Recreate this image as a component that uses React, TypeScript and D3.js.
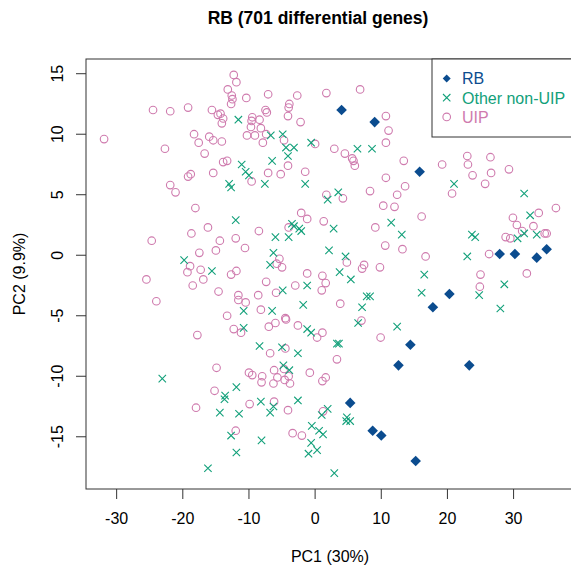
import React, { useEffect, useRef } from 'react';
import * as d3 from 'd3';

const title = 'RB (701 differential genes)';
const xLabel = 'PC1 (30%)';
const yLabel = 'PC2 (9.9%)';
const xTicks = [-30, -20, -10, 0, 10, 20, 30];
const yTicks = [-15, -10, -5, 0, 5, 10, 15];
const groups = ['RB', 'Other non-UIP', 'UIP'];
const colors = ['#0b4c8f', '#12a07a', '#cf7bae'];

const rbPoints = [
  [4.0, 12.0], [9.0, 11.0], [15.8, 6.9], [35.0, 0.5], [33.5, -0.2], [30.2, 0.1],
  [27.9, 0.1], [20.3, -3.2], [17.8, -4.3], [14.4, -7.4], [12.6, -9.1], [23.3, -9.1],
  [5.3, -12.2], [8.7, -14.5], [10.0, -14.9], [15.2, -17.0],
];

const otherPoints = [
  [-11.6, 11.2], [-11.1, 7.5], [-10.5, 6.9], [-13.0, 5.9], [-12.7, 5.6], [-6.7, 9.9],
  [-4.9, 10.0], [-0.6, 9.3], [-4.4, 8.9], [-3.2, 8.9], [-4.1, 8.2], [-6.5, 7.8],
  [6.4, 8.8], [8.6, 8.8], [-10.0, 6.6], [-7.6, 5.9], [-1.5, 5.9], [3.5, 5.2],
  [1.9, 4.6], [21.0, 5.9], [31.6, 5.1], [32.5, 3.3], [23.7, 1.7], [24.2, 1.5],
  [30.6, 1.4], [31.6, 1.8], [33.5, 1.7], [23.0, -0.1], [16.5, -1.6], [28.6, -2.4],
  [16.1, -3.1], [24.8, -3.3], [28.0, -4.4], [-12.0, 2.9], [-19.8, -0.4], [-15.6, -1.3],
  [-10.8, -4.6], [-10.8, -6.0], [-3.5, 2.6], [-3.2, 2.4], [-2.4, 2.2], [-2.1, 2.0],
  [2.8, 2.2], [-6.0, 1.5], [-4.0, 1.5], [11.5, 2.7], [13.1, 1.7], [2.1, 0.4],
  [-6.3, 0.2], [-6.8, -0.8], [4.6, -0.1], [3.7, -1.4], [5.4, -2.0], [-1.2, -2.5],
  [-4.9, -2.9], [7.8, -3.4], [8.3, -3.4], [-1.8, -4.1], [-6.5, -4.6], [7.1, -4.3],
  [6.5, -5.6], [12.4, -5.9], [-1.2, -6.1], [-0.6, -6.4], [-23.1, -10.2], [-11.9, -10.9],
  [-13.6, -11.6], [-13.7, -11.9], [-14.4, -13.0], [-11.5, -13.1], [-12.7, -14.9], [-11.9, -16.3],
  [-16.2, -17.6], [-8.4, -7.5], [-5.0, -7.6], [-2.6, -8.1], [3.3, -7.3], [3.6, -7.3],
  [-4.8, -9.1], [-3.9, -9.5], [-8.2, -12.1], [-6.3, -12.5], [-6.8, -13.0], [-2.6, -12.0],
  [1.9, -12.7], [1.0, -13.2], [4.8, -13.4], [5.3, -13.7], [4.7, -13.7], [-0.5, -14.1],
  [0.6, -14.5], [1.2, -14.8], [-0.6, -15.5], [-8.1, -15.3], [0.3, -16.1], [-1.0, -16.4],
  [2.9, -18.0],
];

const uipPoints = [
  [-12.3, 14.9], [-11.9, 14.3], [-13.2, 13.7], [-12.6, 13.2], [-12.5, 12.9], [-12.7, 12.5],
  [-10.4, 13.0], [-24.5, 12.0], [-21.9, 11.9], [-19.2, 12.2], [-15.6, 12.0], [-14.7, 11.6],
  [-14.3, 11.7], [-13.9, 11.3], [-14.1, 10.9], [-31.9, 9.6], [-18.3, 10.0], [-17.6, 9.3],
  [-16.0, 9.8], [-15.4, 9.5], [-14.1, 9.4], [-10.3, 9.9], [-22.7, 8.8], [-16.7, 8.4],
  [-13.9, 7.7], [-13.3, 7.8], [-18.8, 6.7], [-19.2, 6.5], [-15.4, 6.8], [-21.9, 5.8],
  [-21.1, 5.2], [-7.1, 13.3], [-2.7, 13.2], [1.7, 13.4], [6.8, 13.7], [-7.5, 12.0],
  [-7.3, 11.8], [-3.9, 12.5], [-4.0, 12.2], [-4.1, 11.5], [-2.2, 11.0], [-9.5, 11.4],
  [-9.6, 11.1], [-8.4, 11.2], [-9.7, 10.6], [-8.2, 10.5], [-9.1, 9.9], [-7.4, 10.0],
  [-7.9, 9.3], [-4.7, 9.5], [0.0, 9.2], [2.9, 8.8], [4.5, 8.4], [5.6, 8.0],
  [5.8, 7.8], [6.0, 7.4], [10.7, 11.5], [11.1, 10.3], [10.7, 9.3], [13.4, 7.8],
  [-4.1, 7.4], [-7.1, 6.8], [-5.2, 6.7], [-1.5, 6.9], [-9.6, 6.1], [10.7, 6.4],
  [13.6, 5.7], [8.3, 5.3], [12.4, 5.0], [1.7, 5.0], [4.2, 4.7], [19.2, 7.5],
  [23.0, 8.2], [23.1, 7.5], [26.5, 8.1], [23.8, 6.6], [26.6, 6.8], [29.3, 7.1],
  [25.7, 5.9], [20.7, 5.1], [29.9, 3.1], [30.5, 2.5], [33.8, 3.5], [36.4, 3.9],
  [33.0, 2.4], [31.3, 2.0], [28.8, 1.5], [29.5, 1.4], [34.7, 1.8], [35.0, 1.8],
  [16.1, 3.2], [16.7, -0.1], [26.3, 0.1], [25.0, -1.6], [24.9, -2.6], [32.0, -1.5],
  [-18.1, 3.9], [-16.2, 2.3], [-18.7, 1.8], [-24.7, 1.2], [-14.4, 1.2], [-12.0, 1.4],
  [-10.6, 0.6], [-15.0, 0.4], [-17.5, 0.2], [-18.9, -0.9], [-19.3, -1.4], [-17.3, -1.2],
  [-16.9, -2.0], [-12.7, -1.6], [-11.9, -1.3], [-25.5, -2.0], [-18.5, -2.5], [-14.6, -3.0],
  [-24.0, -3.8], [-11.6, -3.3], [-11.6, -3.7], [-10.5, -3.9], [-13.3, -5.0], [-12.3, -6.1],
  [-11.2, -6.4], [-17.8, -6.6], [10.3, 4.1], [12.0, 4.0], [-2.1, 3.5], [-1.2, 3.0],
  [1.3, 2.8], [-4.0, 2.3], [-8.5, 2.0], [9.1, 2.3], [10.6, 0.8], [13.2, 0.5],
  [-5.4, -0.3], [-5.8, -0.7], [-5.0, -1.0], [4.8, -0.6], [7.4, -0.8], [7.1, -1.1],
  [9.8, -1.0], [-1.2, -1.5], [-7.4, -2.2], [1.1, -1.7], [1.6, -2.3], [-3.0, -2.5],
  [1.0, -2.9], [-5.9, -3.1], [-8.6, -3.3], [-8.2, -4.5], [3.8, -4.0], [-6.0, -5.6],
  [-7.0, -5.9], [-4.5, -5.2], [-4.4, -5.3], [-2.6, -5.8], [1.1, -6.4], [0.3, -6.8],
  [7.0, -5.4], [9.9, -6.8], [-14.9, -9.3], [-15.2, -11.2], [-18.0, -12.6], [-12.0, -14.5],
  [-6.8, -8.1], [-4.5, -7.7], [3.3, -8.6], [-10.0, -9.7], [-9.5, -9.9], [-6.2, -9.5],
  [-4.7, -9.4], [-8.0, -10.0], [-8.1, -10.5], [-5.7, -10.1], [-6.3, -10.6], [-4.6, -10.3],
  [-4.0, -10.0], [-3.8, -10.6], [-0.8, -9.7], [1.6, -10.1], [1.1, -10.4], [-9.9, -12.3],
  [-6.2, -12.1], [-4.1, -12.8], [1.2, -12.9], [-3.4, -14.7], [-2.0, -14.9],
];

const W = 571;
const H = 569;
const left = 86, right = 574, top = 59, bottom = 489;
const font = 'Liberation Sans, Arial, Helvetica, sans-serif';

function App() {
  const ref = useRef<SVGSVGElement>(null);

  useEffect(() => {
    const svg = d3.select(ref.current);
    svg.selectAll('*').remove();

    const all = [...rbPoints, ...otherPoints, ...uipPoints];
    // R style 4% padding around the data range
    const pad = (ext: [number, number]) => {
      const r = ext[1] - ext[0];
      return [ext[0] - 0.04 * r, ext[1] + 0.04 * r];
    };
    const xScale = d3.scaleLinear()
      .domain(pad(d3.extent(all, d => d[0]) as [number, number]))
      .range([left, right]);
    const yScale = d3.scaleLinear()
      .domain(pad(d3.extent(all, d => d[1]) as [number, number]))
      .range([bottom, top]);

    svg.append('rect').attr('width', W).attr('height', H).attr('fill', 'white');

    svg.append('text')
      .attr('x', 318).attr('y', 24)
      .attr('text-anchor', 'middle')
      .style('font', `bold 17.5px ${font}`)
      .text(title);

    // x axis
    const xa = svg.append('g').attr('class', 'x axis');
    xa.selectAll('line').data(xTicks).enter().append('line')
      .attr('x1', d => xScale(d)).attr('x2', d => xScale(d))
      .attr('y1', bottom).attr('y2', bottom + 10)
      .attr('stroke', '#333');
    xa.selectAll('text').data(xTicks).enter().append('text')
      .attr('x', d => xScale(d)).attr('y', 524)
      .attr('text-anchor', 'middle')
      .style('font', `16px ${font}`)
      .text(d => d);
    svg.append('text')
      .attr('x', (left + right) / 2).attr('y', 562)
      .attr('text-anchor', 'middle')
      .style('font', `16px ${font}`)
      .text(xLabel);

    // y axis
    const ya = svg.append('g').attr('class', 'y axis');
    ya.selectAll('line').data(yTicks).enter().append('line')
      .attr('y1', d => yScale(d)).attr('y2', d => yScale(d))
      .attr('x1', left).attr('x2', left - 10)
      .attr('stroke', '#333');
    ya.selectAll('text').data(yTicks).enter().append('text')
      .attr('transform', d => `translate(63,${yScale(d)}) rotate(-90)`)
      .attr('text-anchor', 'middle')
      .style('font', `16px ${font}`)
      .text(d => d);
    svg.append('text')
      .attr('transform', `translate(25,${(top + bottom) / 2}) rotate(-90)`)
      .attr('text-anchor', 'middle')
      .style('font', `16px ${font}`)
      .text(yLabel);

    // points
    svg.append('g').attr('class', 'uip')
      .selectAll('circle').data(uipPoints).enter().append('circle')
      .attr('cx', d => xScale(d[0])).attr('cy', d => yScale(d[1]))
      .attr('r', 3.8)
      .attr('fill', 'none').attr('stroke', colors[2]).attr('stroke-width', 1.1);

    const cross = 'M-3.7,-3.7L3.7,3.7M-3.7,3.7L3.7,-3.7';
    svg.append('g').attr('class', 'other')
      .selectAll('path').data(otherPoints).enter().append('path')
      .attr('transform', d => `translate(${xScale(d[0])},${yScale(d[1])})`)
      .attr('d', cross)
      .attr('stroke', colors[1]).attr('stroke-width', 1.1).attr('fill', 'none');

    const diamond = 'M0,-5.3L5.3,0L0,5.3L-5.3,0Z';
    svg.append('g').attr('class', 'rb')
      .selectAll('path').data(rbPoints).enter().append('path')
      .attr('transform', d => `translate(${xScale(d[0])},${yScale(d[1])})`)
      .attr('d', diamond)
      .attr('fill', colors[0]);

    // plot box
    svg.append('rect')
      .attr('x', left).attr('y', top)
      .attr('width', right - left).attr('height', bottom - top)
      .attr('fill', 'none').attr('stroke', '#333');

    // legend
    const lg = svg.append('g').attr('class', 'legend');
    lg.append('rect')
      .attr('x', 432).attr('y', top)
      .attr('width', right - 432).attr('height', 78)
      .attr('fill', 'white').attr('stroke', '#333');
    const shapes = [diamond, cross, null];
    groups.forEach((g, i) => {
      const y = 78.5 + i * 19.2;
      if (i === 2) {
        lg.append('circle').attr('cx', 446.7).attr('cy', y).attr('r', 3.8)
          .attr('fill', 'none').attr('stroke', colors[2]).attr('stroke-width', 1.1);
      } else {
        lg.append('path')
          .attr('transform', `translate(446.7,${y})` + (i === 0 ? ' scale(0.75)' : ''))
          .attr('d', shapes[i] as string)
          .attr('fill', i === 0 ? colors[0] : 'none')
          .attr('stroke', i === 1 ? colors[1] : 'none')
          .attr('stroke-width', 1.1);
      }
      lg.append('text')
        .attr('x', 462).attr('y', y + 5.8)
        .attr('fill', colors[i])
        .style('font', `16px ${font}`)
        .text(g);
    });
  }, []);

  return (
    <svg ref={ref} width={W} height={H}
      style={{ position: 'absolute', left: 0, top: 0, display: 'block' }} />
  );
}

export default App;
